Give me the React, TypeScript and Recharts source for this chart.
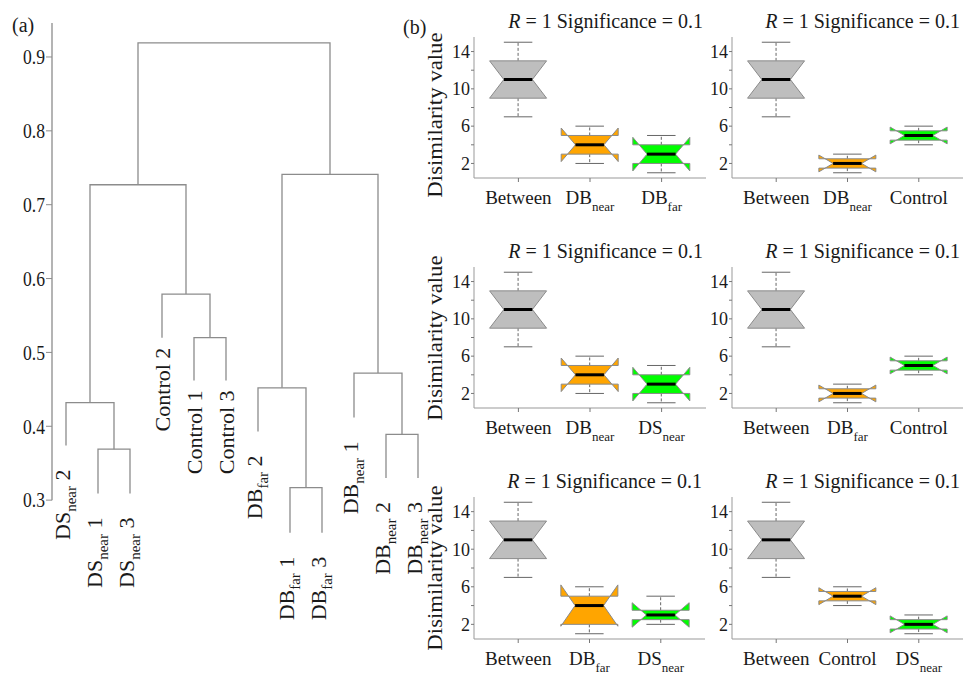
import React from 'react';
import { ComposedChart, Line, Scatter, Bar, XAxis, YAxis, ReferenceLine } from 'recharts';

const SERIF = '"Liberation Serif", "Times New Roman", serif';

// (a) dendrogram, leaves in plotted order (left to right)
const leafMain = ['DS', 'DS', 'DS', 'Control 2', 'Control 1', 'Control 3', 'DB', 'DB', 'DB', 'DB', 'DB', 'DB'];
const leafSub = ['near', 'near', 'near', '', '', '', 'far', 'far', 'far', 'near', 'near', 'near'];
const leafRep = [' 2', ' 1', ' 3', '', '', '', ' 2', ' 1', ' 3', ' 1', ' 2', ' 3'];
const leafHeight = [0.374, 0.309, 0.309, 0.52, 0.462, 0.462, 0.393, 0.256, 0.256, 0.412, 0.33, 0.33];

// hclust-style merges: negative = leaf number, positive = earlier merge
const mergeA = [-2, -1, -5, -4, 2, -8, -7, -11, -10, 7, 5];
const mergeB = [-3, 1, -6, 3, 4, -9, 6, -12, 8, 9, 10];
const mergeHeight = [0.369, 0.432, 0.52, 0.579, 0.727, 0.317, 0.452, 0.389, 0.472, 0.741, 0.919];
const heightTicks = [0.3, 0.4, 0.5, 0.6, 0.7, 0.8, 0.9];

// (b) box plots: min, q1, median, q3, max  + notch limits
const boxFill = ['#bebebe', '#ffa500', '#00ff00'];
const panelMain = [
  ['Between', 'DB', 'DB'],
  ['Between', 'DB', 'Control'],
  ['Between', 'DB', 'DS'],
  ['Between', 'DB', 'Control'],
  ['Between', 'DB', 'DS'],
  ['Between', 'Control', 'DS'],
];
const panelSub = [
  ['', 'near', 'far'],
  ['', 'near', ''],
  ['', 'near', 'near'],
  ['', 'far', ''],
  ['', 'far', 'near'],
  ['', '', 'near'],
];
const betweenStats = [7, 9, 11, 13, 15];
const panelStats = [
  [betweenStats, [2, 3, 4, 5, 6], [1, 2, 3, 4, 5]],
  [betweenStats, [1, 1.5, 2, 2.5, 3], [4, 4.5, 5, 5.5, 6]],
  [betweenStats, [2, 3, 4, 5, 6], [1, 2, 3, 4, 5]],
  [betweenStats, [1, 1.5, 2, 2.5, 3], [4, 4.5, 5, 5.5, 6]],
  [betweenStats, [1, 2, 4, 5, 6], [2, 2.5, 3, 3.5, 5]],
  [betweenStats, [4, 4.5, 5, 5.5, 6], [1, 1.5, 2, 2.5, 3]],
];
const panelNotch = [
  [[9, 13], [2.2, 5.8], [1.2, 4.8]],
  [[9, 13], [1.1, 2.9], [4.1, 5.9]],
  [[9, 13], [2.2, 5.8], [1.2, 4.8]],
  [[9, 13], [1.1, 2.9], [4.1, 5.9]],
  [[9, 13], [1.8, 6.2], [1.7, 4.3]],
  [[9, 13], [4.1, 5.9], [1.1, 2.9]],
];
const valueTicks = [2, 4, 6, 8, 10, 12, 14];

// plot boxes of the six panels: left, top, width, height
const panelBox = [
  [474, 37, 232, 141],
  [732, 37, 231, 141],
  [474, 267, 232, 141],
  [732, 267, 231, 141],
  [474, 497, 231, 142],
  [732, 497, 231, 142],
];
const yLabelShift = [7, 0, 0];

// build dendrogram links
const mergePos: number[] = [];
const nodePos = (id: number) => (id < 0 ? -id : mergePos[id - 1]);
const nodeH = (id: number) => (id < 0 ? leafHeight[-id - 1] : mergeHeight[id - 1]);
const links = mergeA.map((a, i) => {
  const b = mergeB[i];
  const pa = nodePos(a);
  const pb = nodePos(b);
  mergePos.push((pa + pb) / 2);
  const h = mergeHeight[i];
  return [
    { x: pa, y: nodeH(a) },
    { x: pa, y: h },
    { x: pb, y: h },
    { x: pb, y: nodeH(b) },
  ];
});
const leaves = leafMain.map((m, i) => ({ x: i + 1, y: leafHeight[i], main: m, sub: leafSub[i], rep: leafRep[i] }));

function HeightTick({ x, y, payload }: any) {
  return (
    <text x={x} y={y} dy="0.35em" textAnchor="end" fontSize={21} textLength={22}
      lengthAdjust="spacingAndGlyphs" fill="#1a1a1a" fontFamily={SERIF}>
      {Number(payload.value).toFixed(1)}
    </text>
  );
}

function LeafLabel({ cx, cy, payload }: any) {
  const gap = payload.sub ? 24 : 10;
  const ty = cy + gap;
  return (
    <text x={cx} y={ty} dy={payload.sub ? 4.5 : 7.7} textAnchor="end" fontSize={22} fill="#1a1a1a"
      fontFamily={SERIF} transform={`rotate(-90 ${cx} ${ty})`}>
      <tspan>{payload.main}</tspan>
      {payload.sub ? <tspan fontSize={15} dy={6}>{payload.sub}</tspan> : null}
      {payload.sub ? <tspan dy={-6}>{payload.rep}</tspan> : null}
    </text>
  );
}

function Dendrogram() {
  return (
    <div style={{ position: 'absolute', left: 0, top: 0 }}>
      <ComposedChart width={440} height={675} margin={{ top: 23, right: 6, bottom: 101, left: 0 }}>
        <XAxis type="number" dataKey="x" domain={[0.5625, 12.5]} hide />
        <YAxis type="number" domain={[0.2, 0.946]} ticks={heightTicks} interval={0} width={52}
          axisLine={false} tickSize={6} tickMargin={1} tickLine={{ stroke: '#8c8c8c' }} tick={<HeightTick />} />
        <ReferenceLine segment={[{ x: 0.5625, y: 0.3 }, { x: 0.5625, y: 0.946 }]} stroke="#8c8c8c" strokeWidth={1.3} />
        {links.map((pts, i) => (
          <Line key={i} data={pts} dataKey="y" type="linear" stroke="#8c8c8c" strokeWidth={1.3}
            dot={false} activeDot={false} isAnimationActive={false} />
        ))}
        <Scatter data={leaves} dataKey="y" shape={<LeafLabel />} isAnimationActive={false} />
      </ComposedChart>
    </div>
  );
}

function NotchBox(props: any) {
  const { x, y, width, height } = props;
  const d = props.payload ?? props;
  const [lo, q1, med, q3, hi] = d.stats;
  const [n1, n2] = d.notch;
  const py = (v: number) => y + (height * (hi - v)) / (hi - lo);
  const cx = x + width / 2;
  const w = width / 2;
  const pts = [
    [cx - w, py(q1)], [cx - w, py(n1)], [cx - w / 2, py(med)], [cx - w, py(n2)], [cx - w, py(q3)],
    [cx + w, py(q3)], [cx + w, py(n2)], [cx + w / 2, py(med)], [cx + w, py(n1)], [cx + w, py(q1)],
  ].map((p) => p.join(',')).join(' ');
  return (
    <g>
      <line x1={cx} x2={cx} y1={py(q3)} y2={py(hi)} stroke="#666" strokeDasharray="3 2" />
      <line x1={cx} x2={cx} y1={py(q1)} y2={py(lo)} stroke="#666" strokeDasharray="3 2" />
      <line x1={cx - w / 2} x2={cx + w / 2} y1={py(hi)} y2={py(hi)} stroke="#666" />
      <line x1={cx - w / 2} x2={cx + w / 2} y1={py(lo)} y2={py(lo)} stroke="#666" />
      <polygon points={pts} fill={d.fill} stroke="#8a8a8a" strokeWidth={1} />
      <line x1={cx - w / 2} x2={cx + w / 2} y1={py(med)} y2={py(med)} stroke="#000" strokeWidth={3} />
    </g>
  );
}

function ValueTick({ x, y, payload }: any) {
  if ((payload.value - 2) % 4 !== 0) return <g />;
  return (
    <text x={x} y={y} dy="0.35em" textAnchor="end" fontSize={18} fill="#1a1a1a" fontFamily={SERIF}>
      {payload.value}
    </text>
  );
}

function GroupTick({ x, y, payload }: any) {
  const [main, sub] = String(payload.value).split('|');
  return (
    <text x={x} y={y} dy={20} textAnchor="middle" fontSize={19} fill="#1a1a1a" fontFamily={SERIF}>
      <tspan>{main}</tspan>
      {sub ? <tspan fontSize={13} dy={7}>{sub}</tspan> : null}
    </text>
  );
}

function BoxPanel({ index }: { index: number }) {
  const [left, top, w, h] = panelBox[index];
  const data = panelMain[index].map((m, i) => ({
    key: panelSub[index][i] ? `${m}|${panelSub[index][i]}` : m,
    stats: panelStats[index][i],
    notch: panelNotch[index][i],
    fill: boxFill[i],
    range: [panelStats[index][i][0], panelStats[index][i][4]],
  }));
  const pad = (w / 3.24) * 0.12;
  return (
    <div style={{ position: 'absolute', left: left - 46, top: top - 4 }}>
      <ComposedChart width={w + 47} height={h + 48} data={data} margin={{ top: 4, right: 1, bottom: 0, left: 0 }}>
        <XAxis dataKey="key" type="category" height={44} interval={0} padding={{ left: pad, right: pad }}
          tickSize={4} tickMargin={2} axisLine={{ stroke: '#999' }} tickLine={{ stroke: '#777' }} tick={<GroupTick />} />
        <XAxis xAxisId="top" dataKey="key" orientation="top" height={0} tick={false} tickLine={false}
          axisLine={{ stroke: '#999' }} />
        <YAxis type="number" domain={[0.44, 15.56]} ticks={valueTicks} interval={0} width={46}
          tickSize={3} tickMargin={1} axisLine={{ stroke: '#999' }} tickLine={{ stroke: '#777' }} tick={<ValueTick />} />
        <YAxis yAxisId="right" orientation="right" domain={[0, 1]} width={0} tick={false} tickLine={false}
          axisLine={{ stroke: '#999' }} />
        <Bar dataKey="range" barSize={Math.round((w / 3.24) * 0.8)} shape={<NotchBox />} isAnimationActive={false} />
      </ComposedChart>
    </div>
  );
}

export default function App() {
  return (
    <div style={{ position: 'absolute', left: 0, top: 0, width: 964, height: 675, background: '#fff',
      fontFamily: SERIF, color: '#1a1a1a', overflow: 'hidden' }}>
      <div style={{ position: 'absolute', left: 12, top: 15, fontSize: 20, lineHeight: '20px' }}>(a)</div>
      <div style={{ position: 'absolute', left: 403, top: 17, fontSize: 20, lineHeight: '20px' }}>(b)</div>
      <Dendrogram />
      {panelBox.map((b, i) => (
        <BoxPanel key={i} index={i} />
      ))}
      {panelBox.map(([left, top, w], i) => (
        <div key={`t${i}`} style={{ position: 'absolute', left, top: top - 26, width: w - 3, textAlign: 'right',
          fontSize: 20, lineHeight: '20px', whiteSpace: 'nowrap' }}>
          <i>R</i> = 1 Significance = 0.1
        </div>
      ))}
      {panelBox.filter((_, i) => i % 2 === 0).map(([, top, , h], i) => (
        <div key={`y${i}`} style={{ position: 'absolute', left: 435, top: top + h / 2 + yLabelShift[i], fontSize: 20,
          lineHeight: '20px', whiteSpace: 'nowrap', transform: 'translate(-50%, -50%) rotate(-90deg) scaleX(1.14)' }}>
          Disimilarity value
        </div>
      ))}
    </div>
  );
}
